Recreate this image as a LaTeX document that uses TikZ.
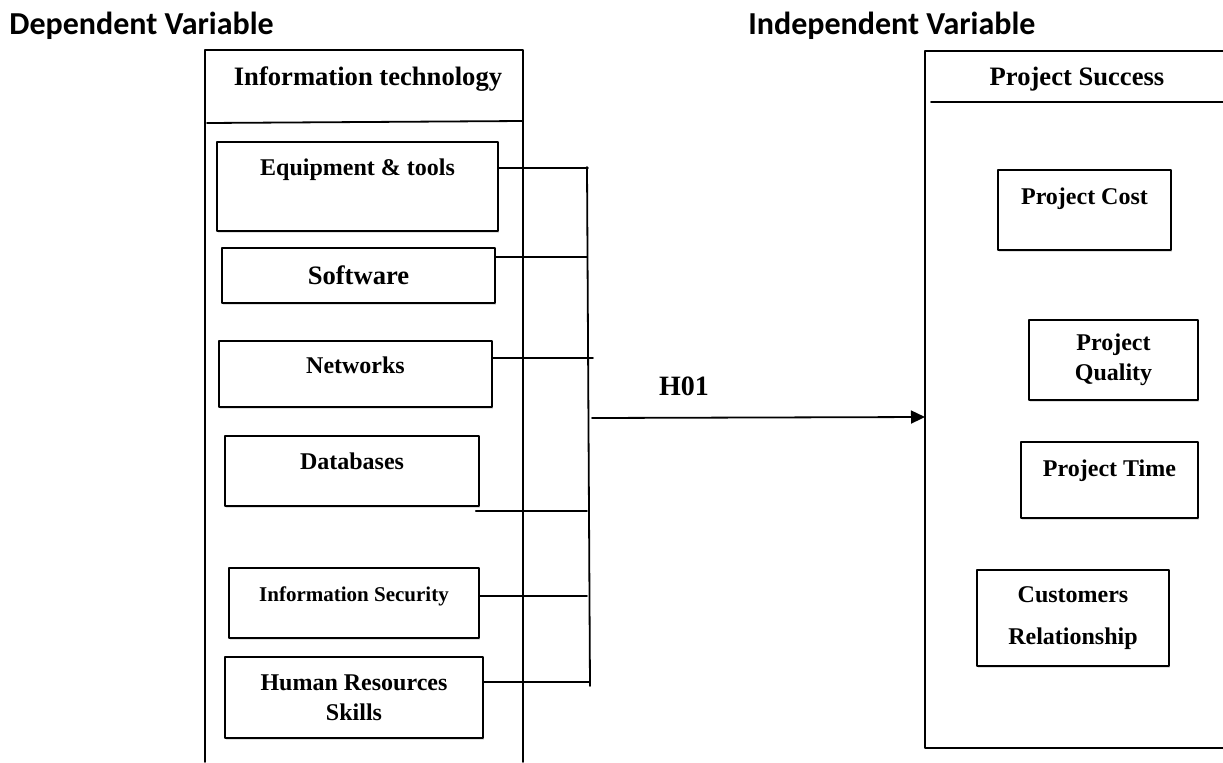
\documentclass[tikz,border=0pt]{standalone}
\usepackage{fontspec}
\setmainfont{Liberation Serif}
\newfontfamily\calibri{Carlito}
\usetikzlibrary{arrows.meta, shadows}
\tikzset{>=latex}
\tikzset{frame/.style={black, line width=0.9pt}}
\tikzset{link/.style={black, line width=0.9pt}}
\tikzset{itembox/.style={draw, line width=0.9pt, fill=white, align=center, font=\bfseries\fontsize{12}{15}\selectfont, drop shadow={shadow xshift=0.6pt, shadow yshift=-1.2pt, opacity=0.25}}}
\tikzset{toptext/.style={anchor=north, inner sep=0pt, font=\bfseries\fontsize{12}{15}\selectfont}}
\tikzset{header/.style={font=\bfseries\fontsize{13.3}{16}\selectfont}}
\tikzset{vartitle/.style={anchor=west, inner sep=0pt, font=\calibri\bfseries\fontsize{16}{19}\selectfont}}

\begin{document}
\begin{tikzpicture}[x=0.5pt, y=-0.5pt, line cap=round, line join=round]
	\useasboundingbox (0,0) rectangle (1223,762);

	% Variable Titles
	\node[vartitle] (dep) at (9,26) {Dependent Variable};
	\node[vartitle] (indep) at (748,26) {Independent Variable};

	% Information Technology Frame
	\draw[frame] (205,762) -- (205,50) -- (523,50) -- (523,762);
	\draw[frame] (207,123) -- (522,121);
	\node[header] (it) at (368,79) {Information technology};

	% IT Items
	\node[itembox, minimum width=140.5pt, minimum height=44.5pt, label={[toptext, yshift=-8.5pt]north:Equipment \& tools}] (equip) at (357.5,186.5) {};
	\node[itembox, minimum width=136.5pt, minimum height=27.5pt, font=\bfseries\fontsize{13.3}{16}\selectfont] (soft) at (358.5,275.5) {Software};
	\node[itembox, minimum width=136.5pt, minimum height=33pt, label={[toptext, yshift=-8pt]north:Networks}] (netw) at (355.5,374) {};
	\node[itembox, minimum width=127pt, minimum height=35pt, label={[toptext, yshift=-8.5pt]north:Databases}] (datab) at (352,471) {};
	\node[itembox, minimum width=125pt, minimum height=35pt, label={[toptext, yshift=-9.5pt, font=\bfseries\fontsize{10.5}{12}\selectfont]north:Information Security}] (infosec) at (354,603) {};
	\node[itembox, minimum width=129pt, minimum height=40.5pt] (hr) at (354,697.5) {Human Resources\\Skills};

	% Bus
	\coordinate (bustop) at (587,167);
	\coordinate (busbot) at (590,686);
	\coordinate (b1) at (588,168);
	\coordinate (b2) at (587,257);
	\coordinate (b3) at (593,358);
	\coordinate (b4) at (587,511);
	\coordinate (b5) at (587,596);
	\coordinate (b6) at (590,682);
	\draw[link] (bustop) -- (busbot);

	% Links to Bus
	\draw[link] (equip.east |- b1) -- (b1);
	\draw[link] (soft.east |- b2) -- (b2);
	\draw[link] (netw.east |- b3) -- (b3);
	\draw[link] ([xshift=-2pt]datab.south east |- b4) -- (b4);
	\draw[link] (infosec.east |- b5) -- (b5);
	\draw[link] (hr.east |- b6) -- (b6);

	% Hypothesis Arrow
	\coordinate (hub) at (592,418);
	\coordinate (target) at (925,417);
	\draw[link, -{Triangle[length=7pt, width=6.5pt]}] (hub) -- (target);
	\node[font=\bfseries\fontsize{14}{17}\selectfont] (h01) at (684,386) {H01};

	% Project Success Frame
	\draw[frame] (1223,51) -- (925,51) -- (925,748) -- (1223,748);
	\draw[frame] (931,102) -- (1223,102);
	\node[header] (ps) at (1077,79) {Project Success};

	% PS Items
	\node[itembox, minimum width=86.5pt, minimum height=40pt, label={[toptext, yshift=-9pt]north:Project Cost}] (cost) at (1084.5,210) {};
	\node[itembox, minimum width=84.5pt, minimum height=40pt] (quality) at (1113.5,360) {Project\\Quality};
	\node[itembox, minimum width=88.5pt, minimum height=38pt, label={[toptext, yshift=-9pt]north:Project Time}] (time) at (1109.5,480) {};
	\node[itembox, minimum width=96pt, minimum height=48pt] (cust) at (1073,618) {Customers\\[6pt]Relationship};
\end{tikzpicture}
\end{document}
